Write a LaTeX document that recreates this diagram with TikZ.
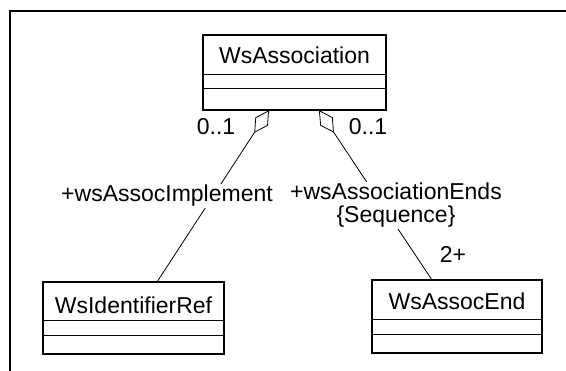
\documentclass[tikz,border=0pt]{standalone}
\usepackage{fontspec}
\setmainfont{Liberation Sans}
\usetikzlibrary{positioning, calc, arrows.meta, shapes.multipart}
\newcommand{\umlsize}{\fontsize{23}{23}\selectfont}
\tikzset{
  umlclass/.style={draw, line width=1.4pt, rectangle split, rectangle split parts=3,
    inner xsep=0pt, inner ysep=0pt, outer sep=0pt, font=\umlsize, anchor=north west},
  assocline/.style={line width=0.8pt},
  aggtip/.style={{Diamond[open, length=27pt, width=15pt, line width=0.8pt]}-},
  rolelabel/.style={fill=white, inner sep=1pt, font=\umlsize},
}
\begin{document}
\begin{tikzpicture}[x=1pt, y=-1pt]
            \useasboundingbox (0,0) rectangle (566,371);
            \draw[line width=1.6pt] (10,371) -- (10,11) -- (566,11);
            \node[umlclass, minimum width=183pt] (assoc) at (203,35)
                {\rule[-10pt]{0pt}{38pt}WsAssociation\nodepart{two}\rule{0pt}{13pt}\nodepart{three}\rule{0pt}{20pt}};
            \node[umlclass, minimum width=181pt] (idref) at (43,282)
                {\rule[-6pt]{0pt}{37pt}WsIdentifierRef\nodepart{two}\rule{0pt}{14pt}\nodepart{three}\rule{0pt}{17pt}};
            \node[umlclass, minimum width=170pt] (assocend) at (372,280)
                {\rule[-9pt]{0pt}{38pt}WsAssocEnd\nodepart{two}\rule{0pt}{14pt}\nodepart{three}\rule{0pt}{17pt}};
            \coordinate (implagg) at ([xshift=66pt]assoc.south west);
            \coordinate (endsagg) at ([xshift=116pt]assoc.south west);
            \coordinate (implend) at ([xshift=114pt]idref.north west);
            \coordinate (endsend) at ([xshift=60pt]assocend.north west);
            \draw[assocline, aggtip] (implagg) -- (implend);
            \draw[assocline, aggtip] (endsagg) -- (endsend);
            \node[rolelabel, anchor=base] (implrole) at (167,202) {+wsAssocImplement};
            \node[rolelabel, anchor=north, align=center] (endsrole) at (396,182) {+wsAssociationEnds\\\{Sequence\}};
            \node[font=\umlsize, anchor=base] (implmult) at (216,135) {0..1};
            \node[font=\umlsize, anchor=base] (endsmult) at (368,135) {0..1};
            \node[font=\umlsize, anchor=base] (endmult) at (453,263) {2+};
\end{tikzpicture}
\end{document}
